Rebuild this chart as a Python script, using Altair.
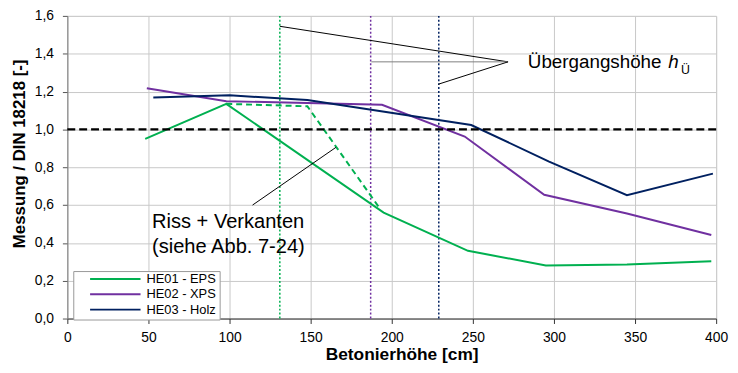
import altair as alt
import pandas as pd

# ---- data ----
series_names = ["HE01 - EPS", "HE02 - XPS", "HE03 - Holz"]
series_colors = ["#00B050", "#7030A0", "#002060"]

he01_x = [48, 98, 195, 247, 295, 345, 397]
he01_y = [0.95, 1.135, 0.56, 0.358, 0.281, 0.286, 0.303]

he02_x = [49, 98, 194, 245, 294, 345, 397]
he02_y = [1.217, 1.149, 1.13, 0.962, 0.654, 0.555, 0.442]

he03_x = [53, 100, 148, 249, 297, 345, 398]
he03_y = [1.168, 1.18, 1.155, 1.023, 0.83, 0.652, 0.766]

# dashed "Riss + Verkanten" branch of HE01
he01_dash_x = [98, 148, 192]
he01_dash_y = [1.135, 1.122, 0.59]

ref_level = [1.0]

# transition heights (dotted verticals)
trans_x = [131, 187, 229]
trans_color = ["#00B050", "#7030A0", "#002060"]

# annotation leader lines (data coords)
lead_x = [131, 187.4, 228.8, 165.6]
lead_y = [1.545, 1.357, 1.239, 0.905]
lead_x2 = [271.7, 271.7, 271.7, 114.2]
lead_y2 = [1.357, 1.357, 1.357, 0.60]
lead_col = ["black", "#808080", "black", "black"]

y_ticks = [0, 0.2, 0.4, 0.6, 0.8, 1.0, 1.2, 1.4, 1.6]
x_ticks = list(range(0, 401, 50))

FONT = "Liberation Sans"

rows = []
for name, xs, ys in [(series_names[0], he01_x, he01_y),
                     (series_names[1], he02_x, he02_y),
                     (series_names[2], he03_x, he03_y)]:
    for i, (a, b) in enumerate(zip(xs, ys)):
        rows.append({"series": name, "x": a, "y": b, "o": i})
df = pd.DataFrame(rows)
df_dash = pd.DataFrame({"x": he01_dash_x, "y": he01_dash_y, "o": range(len(he01_dash_x))})
df_ref = pd.DataFrame({"y": ref_level})
df_trans = pd.DataFrame({"x": trans_x, "c": trans_color})
df_lead = pd.DataFrame({"x": lead_x, "y": lead_y, "x2": lead_x2, "y2": lead_y2, "c": lead_col})

xscale = alt.Scale(domain=[0, 400], nice=False, zero=True)
yscale = alt.Scale(domain=[0, 1.6], nice=False)

xaxis = alt.Axis(
    values=x_ticks, tickCount=len(x_ticks), title="Betonierhöhe [cm]",
    titleFontSize=17.5, titleFont=FONT, titleFontWeight="bold", titleColor="black",
    titleX=338, titleY=41, titleBaseline="alphabetic",
    labelFont=FONT, labelFontSize=14, labelColor="black", labelPadding=7,
    tickSize=5, tickColor="#333", domainColor="#333", domainWidth=1,
    grid=True, gridColor="#c8c8c8", gridWidth=1, labelFlush=False, labelOverlap=False,
)
yaxis = alt.Axis(
    values=y_ticks, tickCount=len(y_ticks),
    labelExpr="replace(format(datum.value, '.1f'), '.', ',')",
    title="Messung / DIN 18218 [-]",
    titleFontSize=17, titleFont=FONT, titleFontWeight="bold", titleColor="black",
    titleX=-43, titleY=139, titleBaseline="alphabetic", titleAngle=270,
    labelFont=FONT, labelFontSize=14, labelColor="black", labelPadding=9,
    tickSize=5, tickColor="#555", domainColor="#808080", domainWidth=1,
    grid=True, gridColor="#c8c8c8", gridWidth=1, labelFlush=False, labelOverlap=False,
)

lines = alt.Chart(df).mark_line(strokeWidth=2).encode(
    x=alt.X("x:Q", scale=xscale, axis=xaxis),
    y=alt.Y("y:Q", scale=yscale, axis=yaxis),
    order="o:Q",
    color=alt.Color(
        "series:N",
        scale=alt.Scale(domain=series_names, range=series_colors),
        legend=alt.Legend(
            title=None, orient="none", legendX=6, legendY=258,
            symbolType="stroke", symbolSize=2601, symbolStrokeWidth=2,
            clipHeight=10, rowPadding=2.5, padding=3, symbolOffset=13,
            labelFont=FONT, labelFontSize=13, labelColor="black", labelOffset=5,
            strokeColor="#999", fillColor="white",
        ),
    ),
)

dash = alt.Chart(df_dash).mark_line(
    strokeWidth=2, strokeDash=[6, 4], color=series_colors[0]
).encode(x="x:Q", y="y:Q", order="o:Q")

ref = alt.Chart(df_ref).mark_rule(
    strokeWidth=2.5, strokeDash=[8, 4], color="black"
).encode(y="y:Q")

trans = alt.Chart(df_trans).mark_rule(strokeWidth=1.5, strokeDash=[2, 2]).encode(
    x="x:Q", color=alt.Color("c:N", scale=None)
)

lead = alt.Chart(df_lead).mark_rule(strokeWidth=1).encode(
    x="x:Q", y="y:Q", x2="x2:Q", y2="y2:Q", color=alt.Color("c:N", scale=None)
)

txt_main = alt.Chart(pd.DataFrame({
    "x": [283.9, 52.2, 52.2],
    "y": [1.323, 0.476, 0.348],
    "t": ["Übergangshöhe", "Riss + Verkanten", "(siehe Abb. 7-24)"],
    "s": [19, 20.3, 20.3],
})).mark_text(align="left", baseline="alphabetic", font=FONT, color="black").encode(
    x="x:Q", y="y:Q", text="t:N", size=alt.Size("s:Q", scale=None)
)

txt_h = alt.Chart(pd.DataFrame({"x": [370.5], "y": [1.323], "t": ["h"]})).mark_text(
    align="left", baseline="alphabetic", font=FONT, fontSize=19, fontStyle="italic", color="black"
).encode(x="x:Q", y="y:Q", text="t:N")

txt_sub = alt.Chart(pd.DataFrame({"x": [378.3], "y": [1.295], "t": ["Ü"]})).mark_text(
    align="left", baseline="alphabetic", font=FONT, fontSize=12.5, color="black"
).encode(x="x:Q", y="y:Q", text="t:N")

chart = alt.layer(trans, lines, dash, ref, lead, txt_main, txt_h, txt_sub).properties(
    width=656, height=306,
    autosize=alt.AutoSizeParams(type="none"),
    padding={"left": 60, "top": 6, "right": 14, "bottom": 45},
).configure_view(stroke="#bbbbbb", strokeWidth=1).configure(background="white")

chart.save("out.html", embed_options={"renderer": "svg", "actions": False})
